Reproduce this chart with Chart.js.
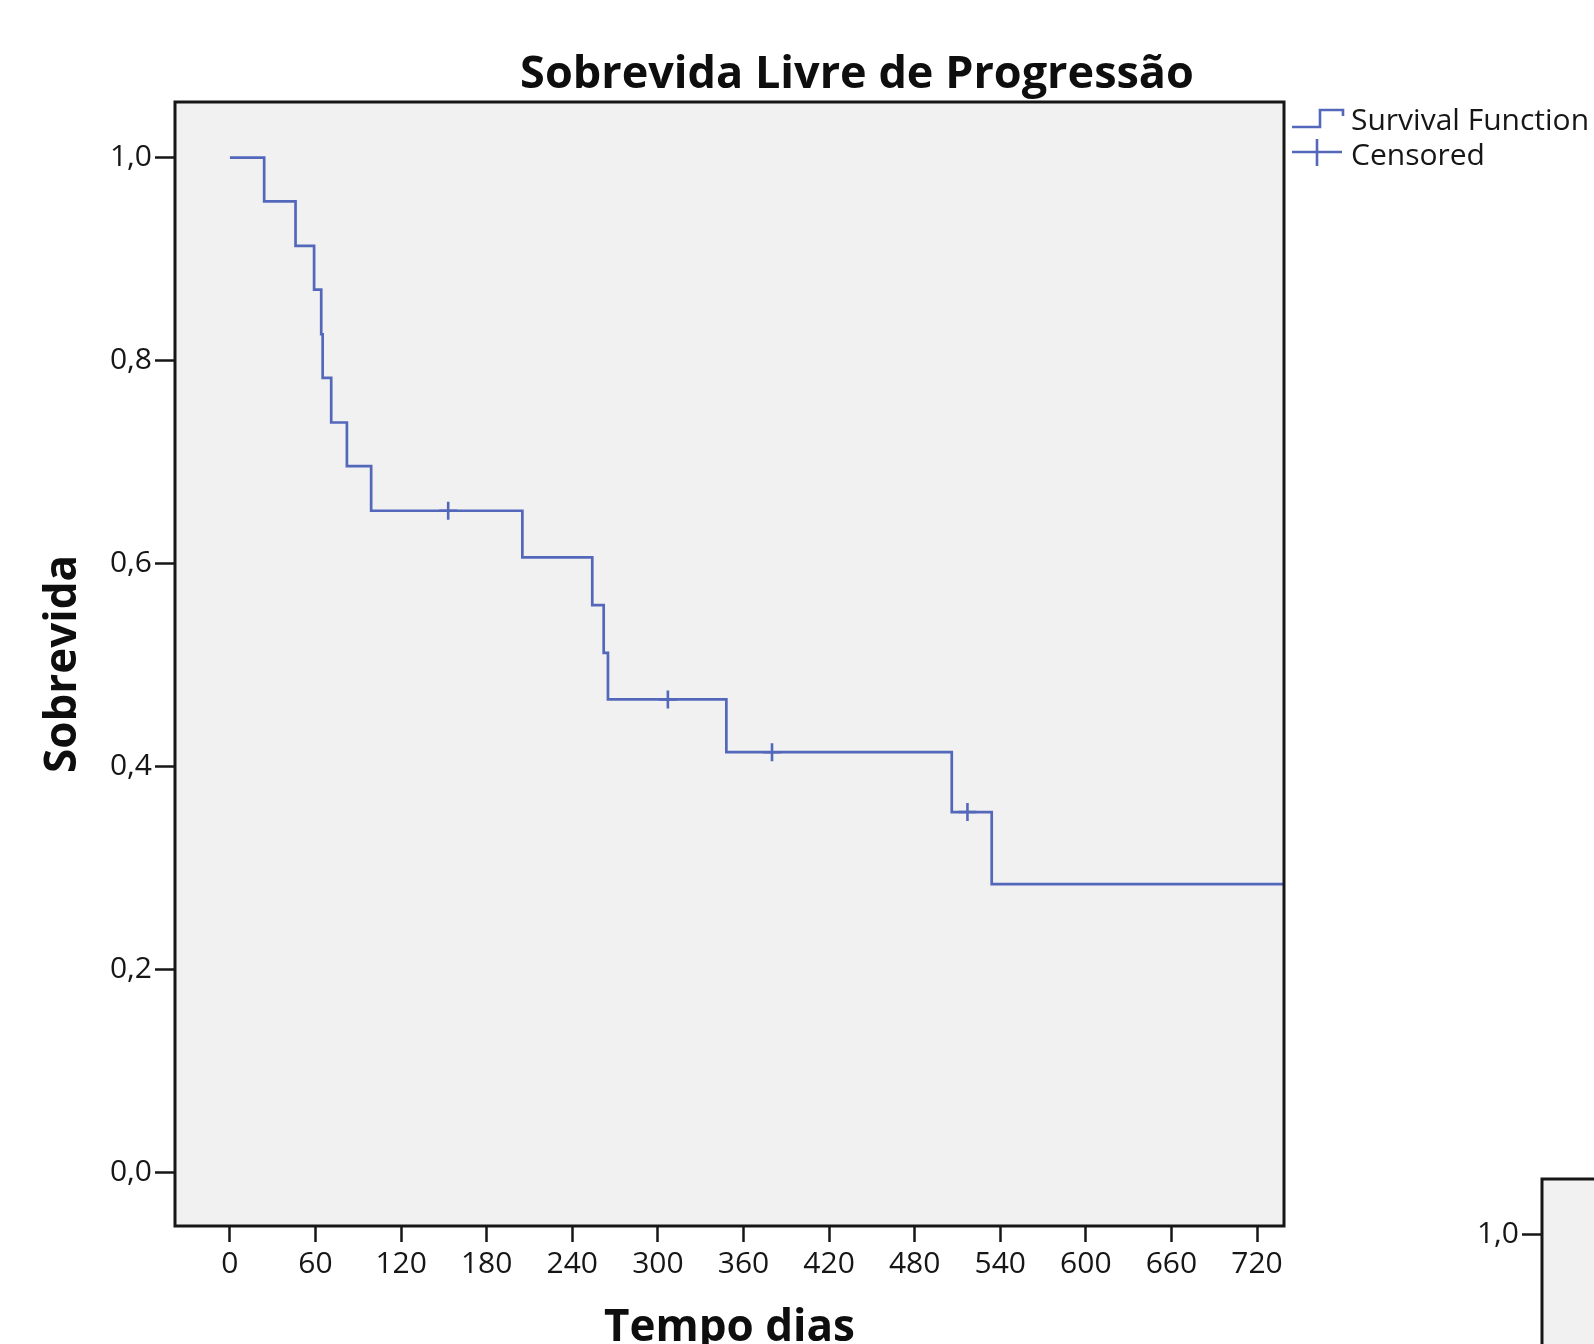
<!DOCTYPE html>
<html><head><meta charset="utf-8">
<script src="https://cdn.jsdelivr.net/npm/chart.js@4.4.1/dist/chart.umd.min.js"></script>
<style>
html,body{margin:0;padding:0;background:#fff;width:1594px;height:1344px;overflow:hidden;}
#main{position:absolute;left:0;top:0;}
#next{position:absolute;left:1367px;top:1077px;}
</style></head><body>
<canvas id="main" width="1594" height="1344"></canvas>
<canvas id="next" width="1594" height="1344"></canvas>
<script>
// ---- data ----
const chartTitle = 'Sobrevida Livre de Progressão';
const xTitle = 'Tempo dias';
const yTitle = 'Sobrevida';
const legendLabels = ['Survival Function', 'Censored'];

const stepTimes    = [0, 24, 46, 59, 64, 65, 71, 82, 99, 205, 254, 262, 265, 348, 506, 534, 739];
const stepSurvival = [1.0, 0.957, 0.913, 0.870, 0.826, 0.783, 0.739, 0.696, 0.652, 0.606, 0.559, 0.512, 0.466, 0.414, 0.355, 0.284, 0.284];

const censorTimes    = [153, 307, 380, 517];
const censorSurvival = [0.652, 0.466, 0.414, 0.355];

const xTicks = [0, 60, 120, 180, 240, 300, 360, 420, 480, 540, 600, 660, 720];
const yTicks = [0.0, 0.2, 0.4, 0.6, 0.8, 1.0];

// ---- styling ----
const LINE = '#5468bb';
const INK = '#161616';
const FONT = '"Open Sans", "Noto Sans", sans-serif';

const plotBg = {
  id: 'plotBg',
  beforeDraw(c) {
    const {ctx, chartArea: a} = c;
    ctx.save();
    ctx.fillStyle = '#f0f1f0';
    ctx.fillRect(a.left, a.top, a.width, a.height);
    ctx.restore();
  }
};
const frame = {
  id: 'frame',
  afterDraw(c) {
    const {ctx, chartArea: a} = c;
    ctx.save();
    ctx.strokeStyle = INK;
    ctx.lineWidth = 3;
    ctx.strokeRect(a.left, a.top, a.width, a.height);
    ctx.restore();
  }
};
const titlePlugin = {
  id: 'titlePlugin',
  afterDraw(c) {
    const {ctx} = c;
    ctx.save();
    ctx.fillStyle = '#0e0e0e';
    ctx.font = 'bold 45px ' + FONT;
    ctx.textAlign = 'center';
    ctx.textBaseline = 'alphabetic';
    ctx.fillText(chartTitle, 857, 88);
    ctx.restore();
  }
};
const legendPlugin = {
  id: 'legendPlugin',
  afterDraw(c) {
    const {ctx} = c;
    ctx.save();
    ctx.strokeStyle = LINE;
    ctx.lineWidth = 2.6;
    ctx.beginPath();
    ctx.moveTo(1292, 127); ctx.lineTo(1320, 127); ctx.lineTo(1320, 110);
    ctx.lineTo(1343, 110); ctx.lineTo(1343, 116);
    ctx.stroke();
    ctx.beginPath();
    ctx.moveTo(1292, 152); ctx.lineTo(1342, 152);
    ctx.moveTo(1317, 139); ctx.lineTo(1317, 166);
    ctx.stroke();
    ctx.fillStyle = '#161616';
    ctx.font = '500 30px ' + FONT;
    ctx.textAlign = 'left';
    ctx.textBaseline = 'alphabetic';
    ctx.fillText(legendLabels[0], 1351, 130);
    ctx.fillText(legendLabels[1], 1351, 165);
    ctx.restore();
  }
};

function makeConfig(withData) {
  const datasets = withData ? [
    {
      label: legendLabels[0],
      data: stepTimes.map((t, i) => ({x: t, y: stepSurvival[i]})),
      borderColor: LINE, borderWidth: 2.7, stepped: 'before',
      pointRadius: 0, fill: false, tension: 0
    },
    {
      label: legendLabels[1],
      data: censorTimes.map((t, i) => ({x: t, y: censorSurvival[i]})),
      borderColor: LINE, backgroundColor: LINE, showLine: false,
      pointStyle: 'cross', pointRadius: 9, pointBorderWidth: 2.6, borderWidth: 2.6
    }
  ] : [];
  return {
    type: 'line',
    data: {datasets},
    options: {
      responsive: false, animation: false, events: [],
      layout: {padding: {top: 102, right: 310, bottom: 0, left: 0}},
      plugins: {legend: {display: false}, title: {display: false}, tooltip: {enabled: false}},
      scales: {
        x: {
          type: 'linear', min: -38.5, max: 738.9,
          afterBuildTicks: s => { s.ticks = xTicks.map(v => ({value: v})); },
          afterFit: s => { s.height = 118; },
          ticks: {autoSkip: false, maxRotation: 0, padding: 4, color: INK,
                  font: {family: FONT, size: 30, weight: '500'}, callback: v => String(v)},
          grid: {drawOnChartArea: false, drawTicks: true, tickLength: 16, tickColor: INK, tickWidth: 2.5},
          border: {display: false},
          title: {display: true, text: xTitle, color: '#0e0e0e',
                  font: {family: FONT, size: 44, weight: 'bold', lineHeight: 0.72},
                  padding: {top: 0, bottom: 0}}
        },
        y: {
          type: 'linear', min: -0.053, max: 1.0549,
          afterBuildTicks: s => { s.ticks = yTicks.map(v => ({value: v})); },
          afterFit: s => { s.width = 175; },
          ticks: {padding: 3, color: INK, font: {family: FONT, size: 30, weight: '500'},
                  callback: v => v.toFixed(1).replace('.', ',')},
          grid: {drawOnChartArea: false, drawTicks: true, tickLength: 20, tickColor: INK, tickWidth: 2.5},
          border: {display: false},
          title: {display: true, text: yTitle, color: '#0e0e0e',
                  font: {family: FONT, size: 44, weight: 'bold', lineHeight: 1.2},
                  padding: {top: 37, bottom: 0}}
        }
      }
    },
    plugins: withData ? [plotBg, frame, titlePlugin, legendPlugin] : [plotBg, frame]
  };
}

new Chart(document.getElementById('main'), makeConfig(true));
new Chart(document.getElementById('next'), makeConfig(false));
</script>
</body></html>
